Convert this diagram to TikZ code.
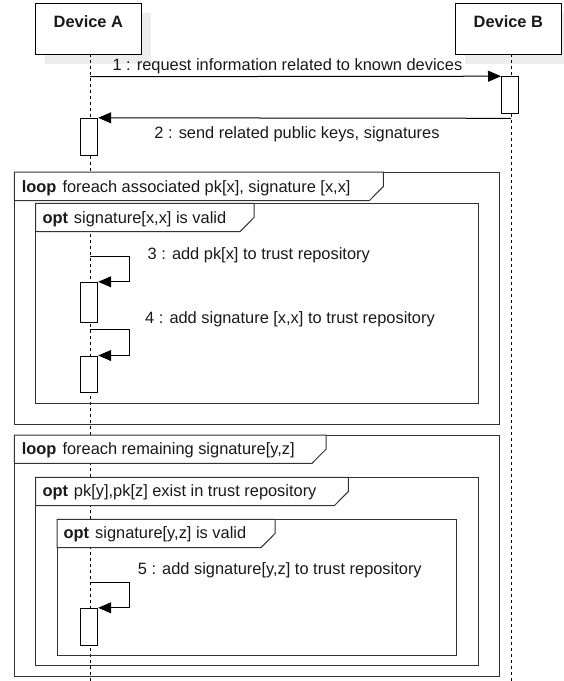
\documentclass[tikz,border=0pt]{standalone}
\usepackage{fontspec}
\setmainfont{Liberation Sans}
\usetikzlibrary{arrows.meta}
\begin{document}
\begin{tikzpicture}[x=1pt,y=-1pt,
  every node/.style={font=\fontsize{16.4}{19}\selectfont, inner sep=0pt, text=black!90},
  devbox/.style={draw=black, fill=white, line width=1pt, minimum width=105.3pt, minimum height=51pt},
  shadowbox/.style={fill=black!7, draw=none, minimum width=105.3pt, minimum height=51pt},
  lifeline/.style={draw=black, line width=1pt, dash pattern=on 3pt off 3pt},
  act/.style={draw=black, fill=white, line width=1pt, minimum width=17.4pt},
  msg/.style={draw=black, line width=1pt, -{Triangle[length=13pt,width=11pt]}},
  frm/.style={draw=black!80, line width=1pt},
  tab/.style={draw=black!80, fill=white, line width=1pt},
  lbl/.style={anchor=west},
]
\useasboundingbox (0,0) rectangle (564,681);

% device boxes with shadows
\node[shadowbox] (shA) at (98,38) {};
\node[shadowbox] (shB) at (518,38) {};
\node[devbox] (devA) at (88.35,28.8) {};
\node[devbox] (devB) at (508.35,28.8) {};
\node[font=\fontsize{16.4}{19}\selectfont\bfseries] (tA) at (88.35,21.5) {Device A};
\node[font=\fontsize{16.4}{19}\selectfont\bfseries] (tB) at (508.35,21.5) {Device B};

% lifelines
\coordinate (lAtop) at (90,54.3);
\coordinate (lAbot) at (90,681);
\coordinate (lBtop) at (511,54.3);
\coordinate (lBbot) at (511,681);
\draw[lifeline] (lAtop) -- (lAbot);
\draw[lifeline] (lBtop) -- (lBbot);

% frames
\draw[frm] (14.3,172) rectangle (499,424);
\draw[tab] (14.3,172) -- (383.3,172) -- (383.3,186.5) -- (369.3,200.7) -- (14.3,200.7) -- cycle;
\node[lbl] (f1) at (21.7,188) {\textbf{loop}\hspace{6pt}foreach associated pk[x], signature [x,x]};

\draw[frm] (35.7,203.3) rectangle (478.3,403.3);
\draw[tab] (35.7,203.3) -- (254,203.3) -- (254,217.5) -- (240,231.7) -- (35.7,231.7) -- cycle;
\node[lbl] (f2) at (42.3,219) {\textbf{opt}\hspace{6pt}signature[x,x] is valid};

\draw[frm] (14.3,435) rectangle (499,676.7);
\draw[tab] (14.3,435) -- (326,435) -- (326,449.2) -- (312,463.3) -- (14.3,463.3) -- cycle;
\node[lbl] (f3) at (21.7,450.7) {\textbf{loop}\hspace{6pt}foreach remaining signature[y,z]};

\draw[frm] (35.7,477.3) rectangle (478.3,665.7);
\draw[tab] (35.7,477.3) -- (348.3,477.3) -- (348.3,491.5) -- (334.3,505.7) -- (35.7,505.7) -- cycle;
\node[lbl] (f4) at (42.3,492.7) {\textbf{opt}\hspace{6pt}pk[y],pk[z] exist in trust repository};

\draw[frm] (57,519.3) rectangle (456.8,655.5);
\draw[tab] (57,519.3) -- (275,519.3) -- (275,533.5) -- (261,547.7) -- (57,547.7) -- cycle;
\node[lbl] (f5) at (63.5,534) {\textbf{opt}\hspace{6pt}signature[y,z] is valid};

% activations
\node[act, minimum height=36.6pt] (actB) at (510.2,95) {};
\node[act, minimum height=37.4pt] (actA) at (89,137) {};
\node[act, minimum height=40.4pt] (act3) at (89,302.5) {};
\node[act, minimum height=36.7pt] (act4) at (89,374.35) {};
\node[act, minimum height=37pt] (act5) at (89,626.8) {};

% messages
\coordinate (s1) at (90,76.7);
\draw[msg] (s1) -- (actB.north west);
\node (l1) at (287.4,66) {1 : request information related to known devices};

\coordinate (s2) at (511,118.3);
\draw[msg] (s2) -- (actA.north east);
\node (l2) at (297,134.3) {2 : send related public keys, signatures};

\coordinate (s3) at (90,256);
\coordinate (c3) at (129.3,256);
\draw[msg] (s3) -- (c3) |- (act3.north east);
\node[lbl] (l3) at (147.5,255) {3 : add pk[x] to trust repository};

\coordinate (s4) at (90,329.3);
\coordinate (c4) at (129.3,329.3);
\draw[msg] (s4) -- (c4) |- (act4.north east);
\node[lbl] (l4) at (145,319) {4 : add signature [x,x] to trust repository};

\coordinate (s5) at (90,582);
\coordinate (c5) at (129.3,582);
\draw[msg] (s5) -- (c5) |- (act5.north east);
\node[lbl] (l5) at (137.7,570.7) {5 : add signature[y,z] to trust repository};
\end{tikzpicture}
\end{document}
